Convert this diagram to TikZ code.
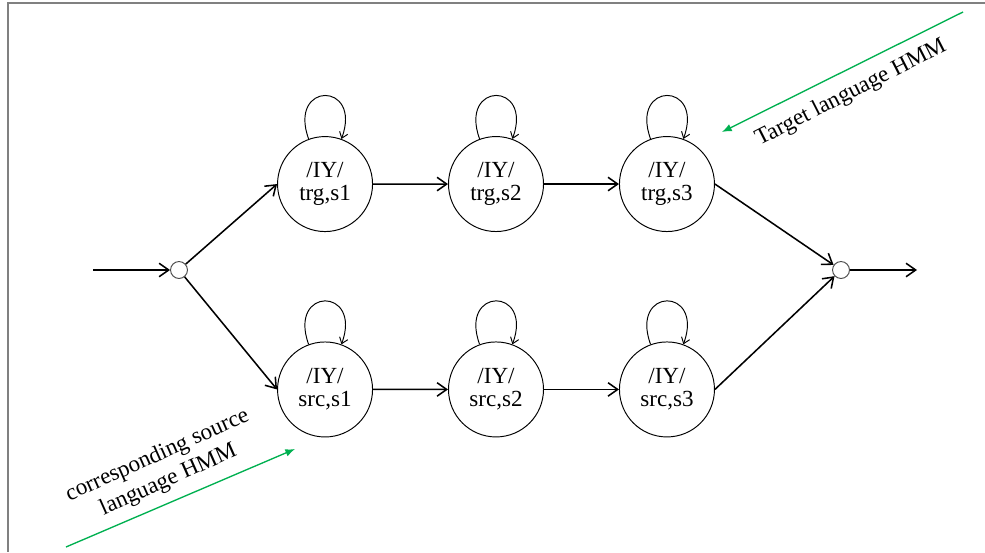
\documentclass[tikz,border=0pt]{standalone}
\usepackage{fontspec}
\setmainfont{Liberation Serif}
\usepackage{tikz}
\usetikzlibrary{arrows.meta}
\usetikzlibrary{matrix}
\definecolor{notegreen}{RGB}{0,176,80}
\newcommand\phn[2]{\shortstack{/IY/\\[1pt]#1,#2}}
\tikzstyle{state}=[circle,draw,line width=.5pt,minimum size=49.4pt,inner sep=0pt]
\tikzstyle{junc}=[circle,draw=black!70,line width=.5pt,minimum size=8.8pt,inner sep=0pt]
\tikzstyle{tr}=[line width=.8pt,-{Straight Barb[length=5pt,width=7pt]}]
\tikzstyle{self}=[line width=.5pt,-{Straight Barb[length=3pt,width=4.5pt]},out=110,in=70,min distance=32pt]
\tikzstyle{note}=[line width=.7pt,notegreen,-{Latex[length=5pt,width=4pt]}]
\begin{document}
\begin{tikzpicture}[x=.52pt,y=-.52pt,font=\fontsize{12}{14}\selectfont]
	\useasboundingbox (0,0) rectangle (985,552);
	\draw[gray,line width=.8pt] (985,3) -- (8,3) -- (8,552);
	\matrix [matrix of nodes, nodes={state}, column sep=39pt, row sep=56.9pt] (m) at (496,286.75) {
	  		\phn{trg}{s1} & \phn{trg}{s2} & \phn{trg}{s3}
	\\		\phn{src}{s1} & \phn{src}{s2} & \phn{src}{s3}
	\\ };
	\node[junc] (in)  at (179,270) {};
	\node[junc] (out) at (841,270) {};
	\coordinate (start) at (93,270);
	\coordinate (end)   at (917,270);
	\draw[tr] (start) -- (in);
	\draw[tr] (in) -- (m-1-1.west);
	\draw[tr] (in) -- (m-2-1.west);
	\draw[tr] (m-1-1) -- (m-1-2);
	\draw[tr] (m-1-2) -- (m-1-3);
	\draw[tr] (m-2-1) -- (m-2-2);
	\draw[tr] (m-2-2) -- (m-2-3);
	\draw[tr] (m-1-3.east) -- (out);
	\draw[tr] (m-2-3.east) -- (out);
	\draw[tr] (out) -- (end);
	\foreach \r in {1,2}
	  \foreach \c in {1,2,3}
	    \draw[self] (m-\r-\c) to (m-\r-\c);
	% green pointers to the two models
	\coordinate (trgfrom) at (963,12);
	\coordinate (trgto)   at (722,132);
	\coordinate (srcfrom) at (66,547);
	\coordinate (srcto)   at (295,449);
	\draw[note] (trgfrom) -- (trgto);
	\draw[note] (srcfrom) -- (srcto);
	\node[rotate=27] (trglbl) at (851,93) {Target language HMM};
	\node[rotate=24,align=center] (srclbl) at (163,468) {corresponding source\\language HMM};
\end{tikzpicture}
\end{document}
